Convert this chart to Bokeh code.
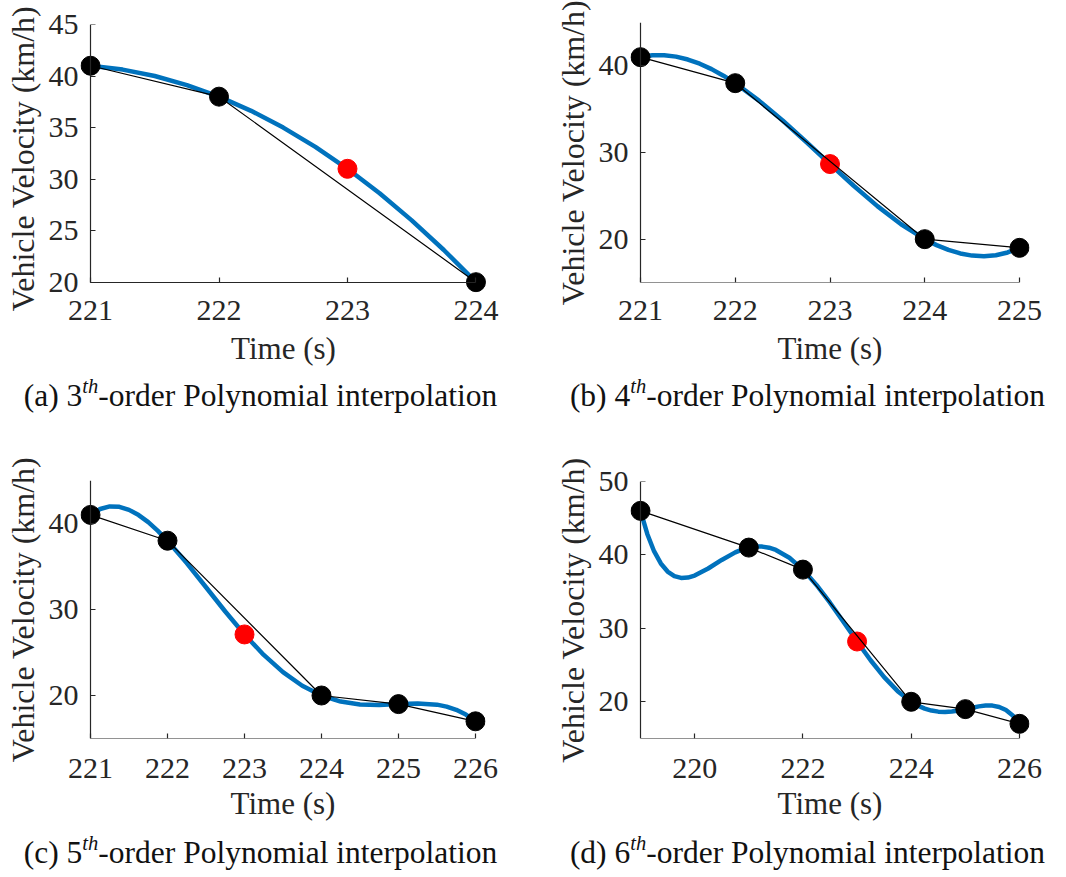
from bokeh.plotting import figure
from bokeh.layouts import row, column
from bokeh.models import Div, FixedTicker, Range1d, LinearAxis
from bokeh.embed import file_html
from bokeh.resources import INLINE

# ---------------- data ----------------
# (a) 3th-order
a_time = [221, 222, 224]
a_vel = [41, 38, 20]
a_est_time = [223]
a_est_vel = [31.0]
a_curve_time = [221, 221.25, 221.5, 221.75, 222, 222.25, 222.5, 222.75, 223,
                223.25, 223.5, 223.75, 224]
a_curve_vel = [41, 40.625, 40, 39.125, 38, 36.625, 35, 33.125, 31,
               28.625, 26, 23.125, 20]

# (b) 4th-order
b_time = [221, 222, 224, 225]
b_vel = [41, 38, 20, 19]
b_est_time = [223]
b_est_vel = [28.667]
b_curve_time = [221, 221.125, 221.25, 221.375, 221.5, 221.625, 221.75, 221.875,
                222, 222.25, 222.5, 222.75, 223, 223.25, 223.5, 223.75, 224,
                224.125, 224.25, 224.375, 224.5, 224.625, 224.75, 224.875, 225]
b_curve_vel = [41, 41.211, 41.227, 41.062, 40.729, 40.243, 39.617, 38.865,
               38, 35.987, 33.688, 31.211, 28.667, 26.164, 23.813, 21.721, 20,
               19.312, 18.758, 18.351, 18.104, 18.032, 18.148, 18.466, 19]

# (c) 5th-order
c_time = [221, 222, 224, 225, 226]
c_vel = [41, 38, 20, 19, 17]
c_est_time = [223]
c_est_vel = [27.1]
c_curve_time = [221, 221.125, 221.25, 221.375, 221.5, 221.625, 221.75, 221.875,
                222, 222.25, 222.5, 222.75, 223, 223.25, 223.5, 223.75, 224,
                224.25, 224.5, 224.75, 225, 225.25, 225.5, 225.625, 225.75,
                225.875, 226]
c_curve_vel = [41, 41.688, 41.984, 41.935, 41.586, 40.979, 40.154, 39.149,
               38, 35.398, 32.586, 29.765, 27.1, 24.718, 22.711, 21.132, 20,
               19.295, 18.961, 18.906, 19, 19.078, 18.936, 18.710, 18.335,
               17.778, 17]

# (d) 6th-order
d_time = [219, 221, 222, 224, 225, 226]
d_vel = [46, 41, 38, 20, 19, 17]
d_est_time = [223]
d_est_vel = [28.21]
d_curve_time = [219, 219.125, 219.25, 219.375, 219.5, 219.625, 219.75, 219.875,
                220, 220.25, 220.5, 220.75, 220.875, 221, 221.125, 221.25,
                221.375, 221.5, 221.75, 222, 222.25, 222.5, 222.75, 223,
                223.25, 223.5, 223.75, 224, 224.125, 224.25, 224.375, 224.5,
                224.625, 224.75, 224.875, 225, 225.125, 225.25, 225.375, 225.5,
                225.625, 225.75, 225.875, 226]
d_curve_vel = [46, 42.856, 40.508, 38.839, 37.741, 37.113, 36.865, 36.916,
               37.190, 38.155, 39.318, 40.345, 40.730, 41, 41.139, 41.135,
               40.981, 40.676, 39.615, 38, 35.919, 33.496, 30.874, 28.210,
               25.657, 23.361, 21.445, 20, 19.471, 19.073, 18.804, 18.658,
               18.622, 18.682, 18.817, 19, 19.199, 19.376, 19.488, 19.482,
               19.300, 18.876, 18.136, 17]

a_xticks = [221, 222, 223, 224]
a_yticks = [20, 25, 30, 35, 40, 45]
b_xticks = [221, 222, 223, 224, 225]
b_yticks = [20, 30, 40]
c_xticks = [221, 222, 223, 224, 225, 226]
c_yticks = [20, 30, 40]
d_xticks = [220, 222, 224, 226]
d_yticks = [20, 30, 40, 50]

captions = [("(a) ", "3", "th", "-order Polynomial interpolation"),
            ("(b) ", "4", "th", "-order Polynomial interpolation"),
            ("(c) ", "5", "th", "-order Polynomial interpolation"),
            ("(d) ", "6", "th", "-order Polynomial interpolation")]

X_LABEL = "Time (s)"
Y_LABEL = "Vehicle Velocity (km/h)"

BLUE = "#0072BD"
AXC = "#262626"
FONT = "Liberation Serif"


def panel(t, v, ct, cv, et, ev, xr, yr, xb, yb, xticks, yticks,
          W, H, bl, br, bt, bb, x_std, x_lstd, y_std):
    p = figure(width=W, height=H, x_range=Range1d(*xr), y_range=Range1d(*yr),
               output_backend="svg", toolbar_location=None,
               min_border_left=bl, min_border_right=br,
               min_border_top=bt, min_border_bottom=bb)
    p.outline_line_color = None
    p.xgrid.visible = False
    p.ygrid.visible = False
    p.background_fill_color = "white"
    p.border_fill_color = "white"

    p.line(ct, cv, line_color=BLUE, line_width=4.5, line_join="round")
    p.scatter(et, ev, size=19, fill_color="#FF0000", line_color="#FF0000")
    p.line(t, v, line_color="black", line_width=1.2)
    p.scatter(t, v, size=19, fill_color="black", line_color="black")

    # label axes (normal placement, no rule / ticks)
    xa = p.xaxis[0]
    ya = p.yaxis[0]
    xa.bounds = xb
    ya.bounds = yb
    xa.ticker = FixedTicker(ticks=xticks, minor_ticks=[])
    ya.ticker = FixedTicker(ticks=yticks, minor_ticks=[])
    for ax in (xa, ya):
        ax.axis_line_color = None
        ax.major_tick_line_color = None
        ax.minor_tick_line_color = None
        ax.major_tick_in = 0
        ax.major_tick_out = 0
        ax.minor_tick_in = 0
        ax.minor_tick_out = 0
        ax.major_label_text_font = FONT
        ax.major_label_text_font_size = "30px"
        ax.major_label_text_color = AXC
        ax.axis_label_text_font = FONT
        ax.axis_label_text_font_style = "normal"
        ax.axis_label_text_color = AXC
    xa.axis_label = X_LABEL
    ya.axis_label = Y_LABEL
    xa.axis_label_text_font_size = "31px"
    ya.axis_label_text_font_size = "32px"
    xa.major_label_standoff = x_std
    xa.axis_label_standoff = x_lstd
    ya.major_label_standoff = y_std
    ya.axis_label_standoff = 5

    # rule + inward ticks at the data origin
    rx = LinearAxis(fixed_location=yb[0], bounds=xb,
                    ticker=FixedTicker(ticks=xticks, minor_ticks=[]))
    ry = LinearAxis(fixed_location=xb[0], bounds=yb,
                    ticker=FixedTicker(ticks=yticks, minor_ticks=[]))
    for ax in (rx, ry):
        ax.axis_line_color = AXC
        ax.axis_line_width = 1.2
        ax.major_tick_line_color = AXC
        ax.major_tick_line_width = 1.2
        ax.major_tick_in = 5
        ax.major_tick_out = 0
        ax.minor_tick_in = 0
        ax.minor_tick_out = 0
        ax.major_label_text_color = None
    p.add_layout(rx, "below")
    p.add_layout(ry, "left")
    return p


def caption(parts, W, H, lift, shift):
    pre, num, sup, post = parts
    html = ('<div style="font-family: Liberation Serif, Times New Roman, serif; '
            'font-size:31.5px; color:#111; text-align:center; white-space:nowrap; '
            f'line-height:36px; position:relative; top:{lift}px; margin-left:{shift}px; '
            f'width:{W - 16}px;">'
            f'{pre}{num}<span style="font-size:20.5px; font-style:italic; '
            f'position:relative; top:-13px;">{sup}</span>{post}</div>')
    return Div(text=html, width=W, height=H, margin=0)


TOP_H = 388
BOT_H = 404

pa = panel(a_time, a_vel, a_curve_time, a_curve_vel, a_est_time, a_est_vel,
           (220.922, 224.082), (19.0, 45), (221, 224), (20, 45),
           a_xticks, a_yticks, 533, TOP_H, 80, 47, 24, TOP_H - 24 - 268, 8, 8, 2)
pb = panel(b_time, b_vel, b_curve_time, b_curve_vel, b_est_time, b_est_vel,
           (220.8945, 225.1055), (15, 45), (221, 225), (15, 45),
           b_xticks, b_yticks, 533, TOP_H, 97, 37, 22, TOP_H - 22 - 260, 18, 8, 2)
pc = panel(c_time, c_vel, c_curve_time, c_curve_vel, c_est_time, c_est_vel,
           (220.87, 226.13), (15, 45), (221, 226), (15, 45),
           c_xticks, c_yticks, 533, BOT_H, 80, 48, 50, BOT_H - 50 - 258, 20, 5, 2)
pd = panel(d_time, d_vel, d_curve_time, d_curve_vel, d_est_time, d_est_vel,
           (218.815, 226.185), (15, 50), (219, 226), (15, 50),
           d_xticks, d_yticks, 533, BOT_H, 97, 37, 51, BOT_H - 51 - 257, 20, 5, 2)

da = caption(captions[0], 533, 42, -10, 2)
db = caption(captions[1], 533, 42, -10, 16)
dc = caption(captions[2], 533, 43, 1, 2)
dd = caption(captions[3], 533, 43, 1, 16)

layout = column(
    row(column(pa, da, spacing=0), column(pb, db, spacing=0), spacing=0),
    row(column(pc, dc, spacing=0), column(pd, dd, spacing=0), spacing=0),
    spacing=0,
)

open("out.html", "w").write(file_html(layout, INLINE))
